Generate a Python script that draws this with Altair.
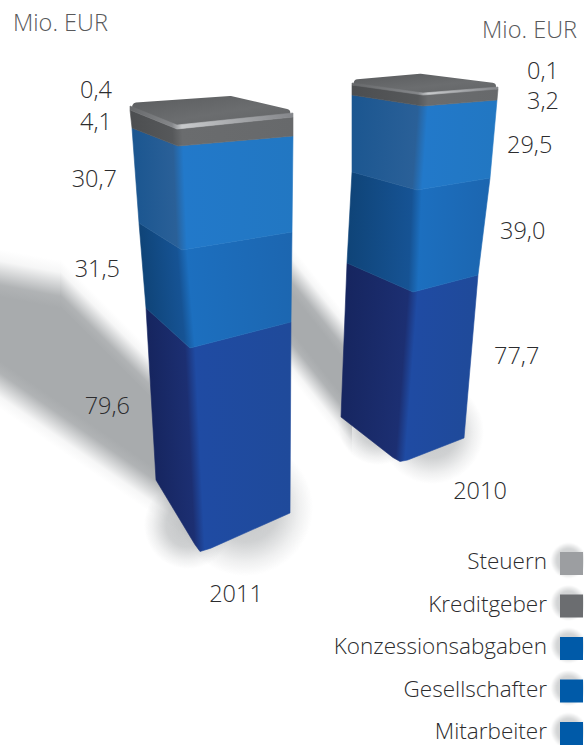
import altair as alt
import numpy as np
import pandas as pd

# Values in Mio. EUR, bottom to top of each column
CATEGORIES = ["Mitarbeiter", "Gesellschafter", "Konzessionsabgaben", "Kreditgeber", "Steuern"]
VALUES_2011 = [79.6, 31.5, 30.7, 4.1, 0.4]
VALUES_2010 = [77.7, 39.0, 29.5, 3.2, 0.1]
LEGEND_ORDER = ["Steuern", "Kreditgeber", "Konzessionsabgaben", "Gesellschafter", "Mitarbeiter"]
LEGEND_COLORS = ["#9c9ea1", "#6b6d70", "#005aa8", "#005aa8", "#005aa8"]

W, H = 584, 745
FONT = "Open Sans"
TEXT_COLOR = "#2c2c2e"
X = alt.X("x:Q", axis=None, scale=alt.Scale(domain=[0, W], nice=False, zero=False))
Y = alt.Y("y:Q", axis=None, scale=alt.Scale(domain=[H, 0], nice=False, zero=False))

# Screen projection of the three visible column edges, one knot per stack boundary
PROJECTION = {
    "2011": dict(
        left=([156, 146, 139, 132, 130, 130], [480, 308, 223, 128, 110, 106]),
        corner=([200, 190, 182, 178, 177, 177], [553, 348, 250, 146, 129, 125]),
        right=([290, 291, 292, 293, 293, 293], [513, 322, 232, 136, 117, 113]),
        back=(232, 99),
    ),
    "2010": dict(
        left=([341, 347, 352, 352, 352, 352], [417, 263, 172, 95, 85, 83]),
        corner=([400, 413, 417, 423, 423, 423], [463, 292, 190, 106, 95, 93]),
        right=([464, 478, 490, 497, 498, 498], [438, 275, 178, 100, 89, 87]),
        back=(420, 77),
    ),
}

# Shading per segment: left face outer/inner, front face inner/outer
SHADES = {
    "Mitarbeiter": ("#16255f", "#1c2f72", "#1f4ba3", "#1f4a9a"),
    "Gesellschafter": ("#0f4478", "#165394", "#1c6fbf", "#1c66b0"),
    "Konzessionsabgaben": ("#1b5690", "#2a6098", "#2279ca", "#2277c2"),
    "Kreditgeber": ("#4c4e50", "#56585a", "#6a6c6e", "#67696b"),
    "Steuern": ("#66686a", "#85878a", "#c8cacc", "#84868a"),
}
SHADOW = "168,171,173"


def layer_polygon(points, fill, stroke=None, stroke_width=0.6):
    rows = pd.DataFrame(points, columns=["x", "y"]).assign(i=lambda d: np.arange(len(d)))
    mark = alt.Chart(rows).mark_line(
        interpolate="linear-closed", fill=fill, stroke=stroke if stroke is not None else fill,
        strokeWidth=stroke_width, strokeJoin="round",
    )
    return mark.encode(x=X, y=Y, order=alt.Order("i:Q"))


def to_unit(points, p):
    pts = np.array(points, dtype=float)
    lo, hi = pts.min(axis=0), pts.max(axis=0)
    return (np.array(p, dtype=float) - lo) / np.maximum(hi - lo, 1e-6)


def face_gradient(points, c_top, c_bottom, shades, soft_px=5):
    """Horizontal shading whose crease follows the slanted column corner."""
    pts = np.array(points, dtype=float)
    a, b = to_unit(points, c_top), to_unit(points, c_bottom)
    d = b - a
    if np.linalg.norm(d) < 1e-6:
        d = np.array([0.0, 1.0])
    n = np.array([d[1], -d[0]]) / np.linalg.norm(d)
    if n[0] < 0:
        n = -n
    mid = (a + b) / 2
    proj = [(to_unit(points, p) - mid) @ n for p in pts]
    lo, hi = min(proj), max(proj)
    p0, p1 = mid + n * lo, mid + n * hi
    t = -lo / (hi - lo)
    s = soft_px / (pts[:, 0].max() - pts[:, 0].min())
    return dict(
        gradient="linear", x1=float(p0[0]), y1=float(p0[1]), x2=float(p1[0]), y2=float(p1[1]),
        stops=[
            dict(offset=0, color=shades[0]),
            dict(offset=float(max(t - s, 0.01)), color=shades[1]),
            dict(offset=float(min(t + s, 0.99)), color=shades[2]),
            dict(offset=1, color=shades[3]),
        ],
    )


def soft_band(x0, x1, y_top, y_bottom, slope, soft_top=0, soft_bottom=0):
    """Grey band along a slanted direction, feathered on the sides that are given a softness."""
    top0, bot0 = y_top - soft_top, y_bottom + soft_bottom
    run = slope * (x1 - x0)
    pts = [(x0, top0), (x0, bot0), (x1, bot0 + run), (x1, top0 + run)]
    # Gradient runs from the upper right corner across the band, normal to it in box space
    u0, u1 = to_unit(pts, pts[0]), to_unit(pts, pts[3])
    low = to_unit(pts, pts[2])
    d = (u1 - u0) / np.linalg.norm(u1 - u0)
    n = np.array([-d[1], d[0]])
    if n[1] < 0:
        n = -n
    end = u1 + n * ((low - u1) @ n)
    span = bot0 - top0
    ramp = [(0, 0), (0.25, 0.1), (0.5, 0.5), (0.75, 0.9), (1, 1)]
    stops = []
    if soft_top:
        stops += [(f * 2 * soft_top / span, a) for f, a in ramp]
    else:
        stops.append((0, 1))
    if soft_bottom:
        stops += [(1 - f * 2 * soft_bottom / span, a) for f, a in reversed(ramp)]
    else:
        stops.append((1, 1))
    fill = dict(
        gradient="linear", x1=float(u1[0]), y1=float(u1[1]), x2=float(end[0]), y2=float(end[1]),
        stops=[dict(offset=float(o), color=f"rgba({SHADOW},{a})") for o, a in stops],
    )
    return layer_polygon(pts, fill, stroke="transparent", stroke_width=0)


def glow(cx, cy, r, stops):
    pts = [(cx - r, cy - r), (cx + r, cy - r), (cx + r, cy + r), (cx - r, cy + r)]
    fill = dict(
        gradient="radial", x1=0.5, y1=0.5, r1=0, x2=0.5, y2=0.5, r2=0.5,
        stops=[dict(offset=o, color=f"rgba({SHADOW},{a})") for o, a in stops],
    )
    return layer_polygon(pts, fill, stroke="transparent", stroke_width=0)


def column_layers(year, values):
    proj = PROJECTION[year]
    cum = np.concatenate([[0], np.cumsum(values)])

    def at(edge, v):
        xs, ys = proj[edge]
        return np.array([float(np.interp(v, cum, xs)), float(np.interp(v, cum, ys))])

    layers = []

    # Top surface, inset and thickly stroked so its corners come out rounded
    total = cum[-1]
    top = [at("left", total), np.array(proj["back"], dtype=float), at("right", total), at("corner", total)]
    centre = np.mean(top, axis=0)
    inset = [tuple(p + (centre - p) * 0.08) for p in top]
    cap = dict(
        gradient="linear", x1=0, y1=0, x2=1, y2=1,
        stops=[dict(offset=0, color="#5d5f61"), dict(offset=0.55, color="#6b6d6f"), dict(offset=1, color="#636567")],
    )
    layers.append(layer_polygon(inset, cap, stroke=cap, stroke_width=8))

    for cat, lo, hi in zip(CATEGORIES, cum[:-1], cum[1:]):
        upper = [at("left", hi), at("corner", hi), at("right", hi)]
        if lo == 0:
            # Rounded foot of the column
            c, r, l = at("corner", 0), at("right", 0), at("left", 0)
            lower = [r, c + (r - c) * 0.12, c + np.array([0, -1.5]), c + (l - c) * 0.12, l]
        else:
            lower = [at("right", lo), at("corner", lo), at("left", lo)]
        pts = [tuple(p) for p in upper + lower]
        fill = face_gradient(pts, at("corner", hi), at("corner", lo), SHADES[cat])
        layers.append(layer_polygon(pts, fill))
    return layers


def text_layer(rows, size, align="center", color=TEXT_COLOR):
    frame = pd.DataFrame(rows, columns=["x", "y", "label"])
    return alt.Chart(frame).mark_text(
        font=FONT, fontSize=size, fontWeight=300, align=align, baseline="middle", color=color,
    ).encode(x=X, y=Y, text="label:N")


def de(v):
    return f"{v:.1f}".replace(".", ",")


# Label anchors next to each segment
label_rows = [
    (112, 91, de(VALUES_2011[4])), (112, 123, de(VALUES_2011[3])),
    (117, 180, de(VALUES_2011[2])), (120, 270, de(VALUES_2011[1])),
    (130, 407, de(VALUES_2011[0])),
]
label_rows_right = [
    (527, 72, de(VALUES_2010[4])), (527, 102, de(VALUES_2010[3])),
    (507, 146, de(VALUES_2010[2])), (500, 232, de(VALUES_2010[1])),
    (494, 357, de(VALUES_2010[0])),
]

FOOT = [(0, 0.7), (0.5, 0.55), (0.8, 0.18), (1, 0)]
layers = [
    # Cast shadow of the 2011 column: rounded head on the left, feathered flanks
    soft_band(0, 60, 273, 345, 0.19, soft_top=24),
    soft_band(60, 205, 283, 360, 1.0, soft_top=24),
    soft_band(0, 205, 305, 385, 0.69, soft_bottom=24),
    # Cast shadow of the 2010 column
    soft_band(285, 352, 262, 347, 1.25, soft_top=24, soft_bottom=24),
    glow(245, 508, 68, FOOT),
    glow(188, 525, 44, FOOT),
    glow(432, 432, 52, FOOT),
    glow(378, 425, 40, FOOT),
]
layers += column_layers("2011", VALUES_2011)
layers += column_layers("2010", VALUES_2010)

layers.append(text_layer(label_rows, 23.5, align="right"))
layers.append(text_layer(label_rows_right, 23.5, align="left"))
layers.append(text_layer([(236, 595, "2011"), (480, 492, "2010")], 23.5))
layers.append(text_layer([(13, 24, "Mio. EUR")], 23.5, align="left", color="#58595b"))
layers.append(text_layer([(577, 31, "Mio. EUR")], 23.5, align="right", color="#58595b"))

# Legend, one row per category
rows_y = 563.5 + 42.5 * np.arange(len(LEGEND_ORDER))
legend = pd.DataFrame({"label": LEGEND_ORDER, "x": 571.5, "y": rows_y})
legend_text = pd.DataFrame({"label": LEGEND_ORDER, "x": 547, "y": rows_y - 1.5})
for cy in legend["y"]:
    layers.append(glow(568.5, cy - 3, 18, [(0, 0.6), (0.65, 0.5), (1, 0)]))
layers.append(
    alt.Chart(legend).mark_square(size=529, opacity=1, filled=True).encode(
        x=X, y=Y,
        color=alt.Color("label:N", legend=None, scale=alt.Scale(domain=LEGEND_ORDER, range=LEGEND_COLORS)),
    )
)
layers.append(
    alt.Chart(legend_text).mark_text(font=FONT, fontSize=22.5, fontWeight=300, align="right", baseline="middle", color=TEXT_COLOR).encode(
        x=X, y=Y, text="label:N",
    )
)

chart = (
    alt.layer(*layers)
    .properties(width=W, height=H, padding=0, autosize=alt.AutoSizeParams(type="none"), background="white")
    .configure_view(stroke=None)
)
chart.save("out.html", embed_options={"renderer": "svg", "actions": False})
